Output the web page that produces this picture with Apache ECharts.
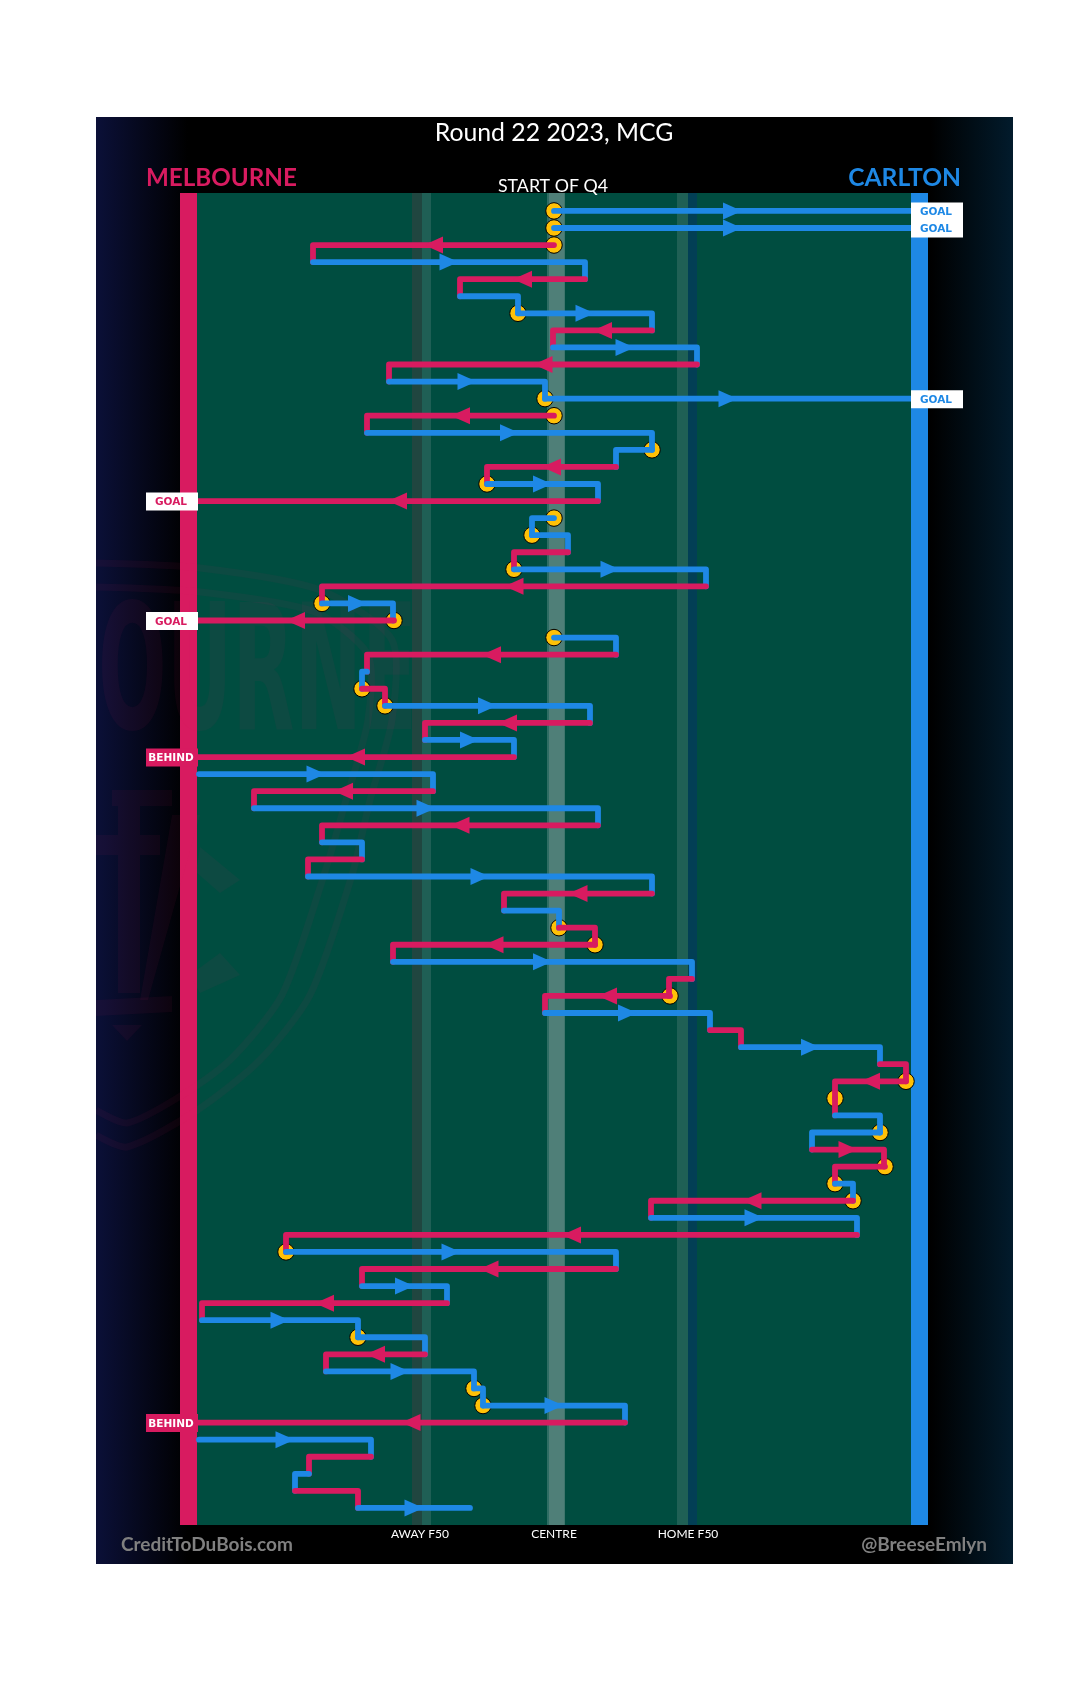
<!DOCTYPE html>
<html>
<head>
<meta charset="utf-8">
<style>html,body{margin:0;padding:0;background:#fff}#c{width:1080px;height:1695px}</style>
<script src="https://cdn.jsdelivr.net/npm/echarts@6/dist/echarts.min.js"></script>
</head>
<body>
<div id="c"></div>
<script>
// Field position: 0 = centre, -357 = Melbourne goal, +357 = Carlton goal. One row per disposal.
const rowStart = [0,0,0,-241,31,-94,-36,98,-1,143,-165,-9,0,-187,98,62,-67,44,0,-22,14,-40,152,-232,-160,0,62,-187,-192,-169,36,-129,-40,-355,-121,-300,44,-232,-192,-246,98,-50,5,41,-161,138,116,-9,156,187,326,352,281,281,326,258,331,281,299,97,303,-268,62,-192,-107,-352,-196,-129,-228,-80,-71,71,-355,-183,-245,-259,-196];
const rowEnd   = [357,357,-241,31,-94,-36,98,-1,143,-165,-9,357,-187,98,62,-67,44,-357,-22,14,-40,152,-232,-161,-357,62,-187,-192,-169,36,-129,-40,-357,-121,-300,44,-232,-192,-246,98,-50,5,41,-161,138,115,-9,156,187,326,352,281,281,326,258,330,281,299,97,303,-268,62,-192,-107,-352,-196,-129,-228,-80,-71,71,-357,-183,-245,-259,-196,-84];
const rowTeam  = "CCMCMCCMCMCCMCCMCMCCMCMCMCMCMCMCMCMCMCMCMCMMCMMCMCMMMCCMMCMCMCMCMCCMCCCMCMCMC".split("");
const stoppageRows = [0,1,2,6,11,12,14,16,18,19,21,23,24,25,28,29,42,43,46,51,52,54,56,57,58,61,66,69,70];
const outcomeRows = {0:"GOAL",1:"GOAL",11:"GOAL",17:"GOAL",24:"GOAL",32:"BEHIND",71:"BEHIND"};
const zoneTicks = {"-134":"AWAY F50","0":"CENTRE","134":"HOME F50"};
const fieldBands = [[-374,374,"#004D40"],[-142,-132,"#204640"],[-132,-123,"#1F5F55"],[-7,-5,"#2F6D64"],[-5,10,"#4F7F78"],[10,11,"#3F766D"],[123,134,"#1F6055"],[134,143,"#023F55"],[-374,-357,"#D81B60"],[357,374,"#1E88E5"]];

const RED="#D81B60", BLUE="#1E88E5", YELLOW="#FFC107", LABEL="Lato, 'Open Sans', sans-serif";
const MIN_ARROW_LENGTH = 70, ROW_MIN=-1.05, ROW_MAX=77;

const segments = rowStart.map((s,i)=>[s,rowEnd[i],i,rowTeam[i]==="M"?0:1]);
const stoppages = stoppageRows.map(r=>[rowStart[r],r]);
const outcomes = Object.keys(outcomeRows).map(r=>[+r,rowEnd[+r]]);

function renderBackdrop(){
  return {type:"rect",shape:{x:96,y:117,width:917,height:1447},style:{fill:{type:"linear",x:0,y:0,x2:1,y2:0,colorStops:[
    {offset:0,color:"#0B1038"},{offset:0.10,color:"#000000"},{offset:0.91,color:"#000000"},{offset:1,color:"#021B2C"}]}}};
}
function renderBand(p,api){
  const a=api.coord([api.value(0),ROW_MIN]), b=api.coord([api.value(1),ROW_MAX]);
  return {type:"rect",shape:{x:a[0],y:a[1],width:b[0]-a[0],height:b[1]-a[1]},style:{fill:fieldBands[p.dataIndex][2]}};
}
function renderWatermark(){
  const ink="rgba(216,27,96,0.06)";
  const line=(pts,w)=>({type:"polyline",shape:{points:pts,smooth:0.25},style:{stroke:ink,lineWidth:w,fill:null}});
  const poly=(pts)=>({type:"polygon",shape:{points:pts},style:{fill:ink}});
  return {type:"group",clipPath:{type:"rect",shape:{x:96,y:500,width:400,height:700}},children:[
    line([[96,563],[200,568],[320,590],[392,640],[392,720],[370,800],[352,875],[310,995],[260,1060],[196,1111],[127,1147],[96,1135]],7),
    line([[96,587],[200,592],[315,612],[368,655],[368,720],[346,800],[324,875],[282,995],[230,1060],[179,1097],[127,1123],[96,1110]],7),
    {type:"text",x:98,y:684,scaleX:0.66,scaleY:1.28,style:{text:"OURNE",font:"bold 136px 'DejaVu Sans Condensed', 'DejaVu Sans'",fill:ink,verticalAlign:"middle",align:"left"}},
    poly([[112,790],[172,790],[172,806],[140,806],[140,835],[160,835],[160,855],[140,855],[140,993],[118,993],[118,855],[96,855],[96,835],[118,835],[118,806],[112,806]]),
    poly([[172,815],[200,815],[148,1000],[140,1000]]),
    poly([[200,847],[240,880],[220,893],[196,872]]),
    poly([[220,953],[240,975],[200,993],[190,975]]),
    poly([[96,1000],[172,996],[172,1012],[96,1016]]),
    poly([[112,1025],[142,1025],[127,1041]])
  ]};
}
function renderSegment(p,api){
  const s=api.value(0), e=api.value(1), r=api.value(2), color=api.value(3)===0?RED:BLUE;
  const a=api.coord([s,r]), b=api.coord([e,r]);
  const pts=[a,b];
  const last=r>=rowStart.length-1;
  if(outcomeRows[r]===undefined && !last){ pts.push(api.coord([e,r+1])); }
  const kids=[{type:"polyline",shape:{points:pts},style:{stroke:color,lineWidth:5.8,fill:null,lineCap:"round",lineJoin:"round"}}];
  if(Math.abs(e-s)>=MIN_ARROW_LENGTH){
    const m=api.coord([(s+e)/2,r]), d=e>s?1:-1;
    kids.push({type:"polygon",shape:{points:[[m[0]+d*9.5,m[1]],[m[0]-d*9.5,m[1]-8.5],[m[0]-d*9.5,m[1]+8.5]]},style:{fill:color}});
  }
  return {type:"group",children:kids};
}
function renderOutcome(p,api){
  const r=api.value(0), e=api.value(1), c=api.coord([e,r]), kind=outcomeRows[r], right=e>0;
  const x=right?c[0]:c[0]-51, w=52, mid=x+w/2-1;
  const behind=kind==="BEHIND";
  const bg=behind?RED:"#FFFFFF", fg=behind?"#FFFFFF":(right?BLUE:RED);
  return {type:"group",children:[
    {type:"rect",shape:{x:x,y:c[1]-8.5,width:w,height:18},style:{fill:bg}},
    {type:"text",x:mid,y:c[1]+1.5,style:{text:kind,font:"900 10.5px 'DejaVu Sans'",fill:fg,align:"center",verticalAlign:"middle"}}
  ]};
}
const txt=(text,x,y,size,fill,weight,align)=>({type:"text",x:x,y:y,z:50,silent:true,style:{text:text,fill:fill,font:(weight||"normal")+" "+size+"px "+LABEL,align:align||"center",verticalAlign:"middle"}});

const chart=echarts.init(document.getElementById("c"),null,{renderer:"canvas"});
chart.setOption({
  animation:false,
  backgroundColor:"#FFFFFF",
  grid:{left:152,width:804,top:193,height:1332,containLabel:false},
  xAxis:{type:"value",min:-402,max:402,interval:134,splitLine:{show:false},axisLine:{show:false},axisTick:{show:false},
    axisLabel:{show:true,color:"#FFFFFF",fontFamily:LABEL,fontSize:12,margin:3,verticalAlign:"top",formatter:v=>zoneTicks[String(v)]||""}},
  yAxis:{type:"value",inverse:true,min:ROW_MIN,max:ROW_MAX,show:false,splitLine:{show:false}},
  graphic:{elements:[
    txt("Round 22 2023, MCG",554,133,24.8,"#FFFFFF"),
    txt("START OF Q4",553,186,17.8,"#FFFFFF"),
    txt("MELBOURNE",146,178,24.2,RED,"bold","left"),
    txt("CARLTON",961,178,24.6,BLUE,"bold","right"),
    txt("CreditToDuBois.com",121,1545,19,"#808080","bold","left"),
    txt("@BreeseEmlyn",987,1545,19,"#808080","bold","right")
  ]},
  series:[
    {type:"custom",name:"panel",coordinateSystem:"none",z:0,silent:true,data:[0],renderItem:renderBackdrop},
    {type:"custom",name:"bands",z:1,silent:true,data:fieldBands.map(b=>[b[0],b[1]]),encode:{x:[0,1]},renderItem:renderBand},
    {type:"custom",name:"watermark",coordinateSystem:"none",z:2,silent:true,data:[0],renderItem:renderWatermark},
    {type:"scatter",name:"stoppages",z:3,silent:true,symbol:"circle",symbolSize:16.5,data:stoppages,clip:false,itemStyle:{color:YELLOW,borderColor:"#000000",borderWidth:1,opacity:1}},
    {type:"custom",name:"disposals",z:5,silent:true,data:segments,encode:{x:[0,1],y:2},renderItem:renderSegment},
    {type:"custom",name:"outcomes",z:6,silent:true,data:outcomes,encode:{x:1,y:0},renderItem:renderOutcome}
  ]
});
</script>
</body>
</html>
